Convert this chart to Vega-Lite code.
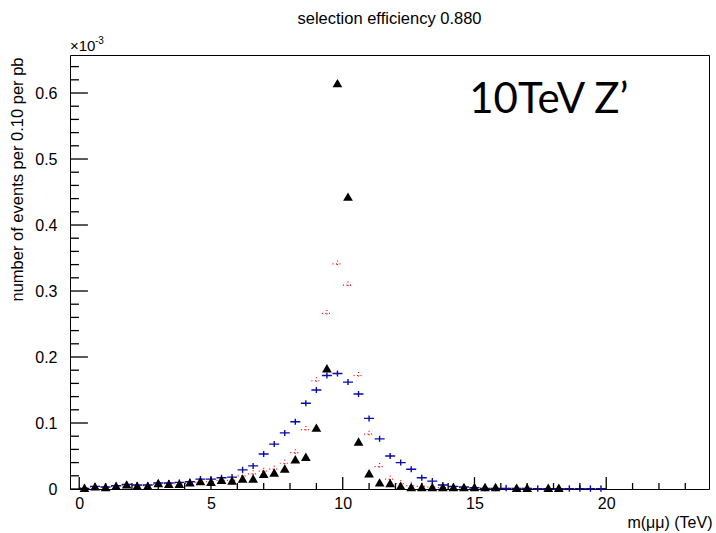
{
  "$schema": "https://vega.github.io/schema/vega-lite/v6.json",
  "width": 639,
  "height": 434,
  "autosize": {"type": "none"},
  "padding": {"left": 70, "top": 55, "right": 7, "bottom": 44},
  "background": "white",
  "title": {"text": "selection efficiency 0.880", "font": "Liberation Sans", "fontSize": 16.5, "fontWeight": "normal", "color": "black", "anchor": "middle", "offset": 9},
  "config": {
    "view": {"stroke": "black", "strokeWidth": 1},
    "axis": {"labelFont": "Liberation Sans", "titleFont": "Liberation Sans", "labelColor": "black", "titleColor": "black", "domainColor": "black", "tickColor": "black", "grid": false, "titleFontWeight": "normal", "labelFlush": false, "labelOverlap": false}
  },
  "datasets": {
    "hist": [
      {"m": 0.2, "blue": 0.001, "red": 0.002, "black": 0.002},
      {"m": 0.6, "blue": 0.004, "red": 0.003, "black": 0.004},
      {"m": 1.0, "blue": 0.003, "red": 0.003, "black": 0.003},
      {"m": 1.4, "blue": 0.005, "red": 0.004, "black": 0.005},
      {"m": 1.8, "blue": 0.007, "red": 0.005, "black": 0.007},
      {"m": 2.2, "blue": 0.006, "red": 0.005, "black": 0.005},
      {"m": 2.6, "blue": 0.006, "red": 0.005, "black": 0.005},
      {"m": 3.0, "blue": 0.009, "red": 0.007, "black": 0.009},
      {"m": 3.4, "blue": 0.009, "red": 0.008, "black": 0.008},
      {"m": 3.8, "blue": 0.010, "red": 0.008, "black": 0.008},
      {"m": 4.2, "blue": 0.011, "red": 0.009, "black": 0.010},
      {"m": 4.6, "blue": 0.015, "red": 0.010, "black": 0.012},
      {"m": 5.0, "blue": 0.015, "red": 0.011, "black": 0.011},
      {"m": 5.4, "blue": 0.017, "red": 0.013, "black": 0.014},
      {"m": 5.8, "blue": 0.018, "red": 0.013, "black": 0.013},
      {"m": 6.2, "blue": 0.029, "red": 0.020, "black": 0.016},
      {"m": 6.6, "blue": 0.035, "red": 0.023, "black": 0.016},
      {"m": 7.0, "blue": 0.053, "red": 0.027, "black": 0.023},
      {"m": 7.4, "blue": 0.068, "red": 0.030, "black": 0.025},
      {"m": 7.8, "blue": 0.085, "red": 0.039, "black": 0.031},
      {"m": 8.2, "blue": 0.102, "red": 0.055, "black": 0.045},
      {"m": 8.6, "blue": 0.130, "red": 0.090, "black": 0.049},
      {"m": 9.0, "blue": 0.150, "red": 0.164, "black": 0.093},
      {"m": 9.4, "blue": 0.172, "red": 0.266, "black": 0.183},
      {"m": 9.8, "blue": 0.175, "red": 0.341, "black": 0.615},
      {"m": 10.2, "blue": 0.162, "red": 0.309, "black": 0.443},
      {"m": 10.6, "blue": 0.144, "red": 0.172, "black": 0.072},
      {"m": 11.0, "blue": 0.107, "red": 0.083, "black": 0.024},
      {"m": 11.4, "blue": 0.076, "red": 0.034, "black": 0.010},
      {"m": 11.8, "blue": 0.050, "red": 0.015, "black": 0.009},
      {"m": 12.2, "blue": 0.040, "red": 0.008, "black": 0.005},
      {"m": 12.6, "blue": 0.030, "red": 0.005, "black": 0.003},
      {"m": 13.0, "blue": 0.017, "red": 0.004, "black": 0.003},
      {"m": 13.4, "blue": 0.012, "red": 0.003, "black": 0.003},
      {"m": 13.8, "blue": 0.006, "red": 0.002, "black": 0.003},
      {"m": 14.2, "blue": 0.004, "red": 0.002, "black": 0.003},
      {"m": 14.6, "blue": 0.003, "red": 0.002, "black": 0.003},
      {"m": 15.0, "blue": 0.002, "red": 0.001, "black": 0.003},
      {"m": 15.4, "blue": 0.001, "red": 0.001, "black": 0.003},
      {"m": 15.8, "blue": 0.001, "red": 0.001, "black": 0.003},
      {"m": 16.2, "blue": 0.001, "red": 0.001, "black": null},
      {"m": 16.6, "blue": 0.001, "red": 0.001, "black": 0.002},
      {"m": 17.0, "blue": 0.001, "red": 0.001, "black": 0.002},
      {"m": 17.4, "blue": 0.0005, "red": 0.0005, "black": null},
      {"m": 17.8, "blue": 0.0005, "red": 0.0005, "black": 0.002},
      {"m": 18.2, "blue": 0.0005, "red": 0.0005, "black": 0.002},
      {"m": 18.6, "blue": 0.0005, "red": 0.0005, "black": null},
      {"m": 19.0, "blue": 0.0005, "red": 0.0005, "black": null},
      {"m": 19.4, "blue": 0.0005, "red": 0.0005, "black": null},
      {"m": 19.8, "blue": 0.0005, "red": 0.0005, "black": null}
    ],
    "xmajor": [{"t": 0}, {"t": 5}, {"t": 10}, {"t": 15}, {"t": 20}],
    "xminor": [{"t": 1}, {"t": 2}, {"t": 3}, {"t": 4}, {"t": 6}, {"t": 7}, {"t": 8}, {"t": 9}, {"t": 11}, {"t": 12}, {"t": 13}, {"t": 14}, {"t": 16}, {"t": 17}, {"t": 18}, {"t": 19}, {"t": 21}, {"t": 22}, {"t": 23}],
    "ymajor": [{"t": 0}, {"t": 0.1}, {"t": 0.2}, {"t": 0.3}, {"t": 0.4}, {"t": 0.5}, {"t": 0.6}],
    "yminor": [{"t": 0.02}, {"t": 0.04}, {"t": 0.06}, {"t": 0.08}, {"t": 0.12}, {"t": 0.14}, {"t": 0.16}, {"t": 0.18}, {"t": 0.22}, {"t": 0.24}, {"t": 0.26}, {"t": 0.28}, {"t": 0.32}, {"t": 0.34}, {"t": 0.36}, {"t": 0.38}, {"t": 0.42}, {"t": 0.44}, {"t": 0.46}, {"t": 0.48}, {"t": 0.52}, {"t": 0.54}, {"t": 0.56}, {"t": 0.58}, {"t": 0.62}, {"t": 0.64}],
    "one": [{"k": 1}]
  },
  "encoding": {
    "x": {"type": "quantitative", "scale": {"domain": [-0.35, 23.9], "nice": false, "zero": false},
      "axis": {"orient": "bottom", "domain": false, "ticks": false, "title": "m(μμ) (TeV)", "titleFontSize": 16, "titleAlign": "right", "titleAnchor": null, "titleX": 642, "titleY": 38, "titleBaseline": "alphabetic",
        "values": [0, 5, 10, 15, 20], "format": "d", "labelFontSize": 16, "labelPadding": 6}},
    "y": {"type": "quantitative", "scale": {"domain": [0, 0.6576], "nice": false, "zero": true},
      "axis": {"orient": "left", "domain": false, "ticks": false, "title": "number of events per 0.10 per pb", "titleFontSize": 16.5, "titleAngle": -90, "titleAlign": "right", "titleBaseline": "middle", "titleX": -53, "titleY": 2,
        "values": [0, 0.1, 0.2, 0.3, 0.4, 0.5, 0.6], "format": "~g", "labelFontSize": 16, "labelPadding": 13}}
  },
  "layer": [
    {
      "data": {"name": "hist"},
      "mark": {"type": "point", "shape": "M-1,0L1,0M0,-0.7L0,0.7", "size": 100, "filled": false, "stroke": "#ff0000", "strokeWidth": 1.2, "strokeDash": [1, 2.5], "opacity": 1},
      "encoding": {"x": {"field": "m"}, "y": {"field": "red"}}
    },
    {
      "data": {"name": "hist"},
      "mark": {"type": "point", "shape": "M-1,0L1,0M0,-0.6L0,0.6", "size": 100, "filled": false, "stroke": "#0a0aa8", "strokeWidth": 1.4, "opacity": 1},
      "encoding": {"x": {"field": "m"}, "y": {"field": "blue"}}
    },
    {
      "data": {"name": "hist"},
      "transform": [{"filter": "isValid(datum.black)"}],
      "mark": {"type": "point", "shape": "triangle-up", "size": 95, "filled": true, "fill": "black", "opacity": 1},
      "encoding": {"x": {"field": "m"}, "y": {"field": "black"}}
    },
    {
      "data": {"name": "xmajor"},
      "mark": {"type": "rule", "stroke": "#000000", "strokeWidth": 1.3, "opacity": 1, "clip": false},
      "encoding": {"x": {"field": "t"}, "y": {"datum": 0}, "y2": {"datum": 0.018}}
    },
    {
      "data": {"name": "xminor"},
      "mark": {"type": "rule", "stroke": "#000000", "strokeWidth": 1.3, "opacity": 1, "clip": false},
      "encoding": {"x": {"field": "t"}, "y": {"datum": 0}, "y2": {"datum": 0.009}}
    },
    {
      "data": {"name": "ymajor"},
      "mark": {"type": "rule", "stroke": "#000000", "strokeWidth": 1.3, "opacity": 1, "clip": false},
      "encoding": {"y": {"field": "t"}, "x": {"datum": -0.35}, "x2": {"datum": 0.33}}
    },
    {
      "data": {"name": "yminor"},
      "mark": {"type": "rule", "stroke": "#000000", "strokeWidth": 1.3, "opacity": 1, "clip": false},
      "encoding": {"y": {"field": "t"}, "x": {"datum": -0.35}, "x2": {"datum": -0.01}}
    },
    {
      "data": {"name": "one"},
      "mark": {"type": "text", "text": "10TeV Z’", "font": "Lato", "fontSize": 42, "align": "left", "baseline": "alphabetic", "color": "black"},
      "encoding": {"x": {"datum": 14.8}, "y": {"datum": 0.57}}
    },
    {
      "data": {"name": "one"},
      "mark": {"type": "text", "text": "×10", "font": "Liberation Sans", "fontSize": 15, "align": "left", "baseline": "alphabetic", "color": "black", "dy": -4},
      "encoding": {"x": {"datum": -0.35}, "y": {"datum": 0.6576}}
    },
    {
      "data": {"name": "one"},
      "mark": {"type": "text", "text": "-3", "font": "Liberation Sans", "fontSize": 10, "align": "left", "baseline": "alphabetic", "color": "black", "dy": -11, "dx": 25},
      "encoding": {"x": {"datum": -0.35}, "y": {"datum": 0.6576}}
    }
  ]
}
